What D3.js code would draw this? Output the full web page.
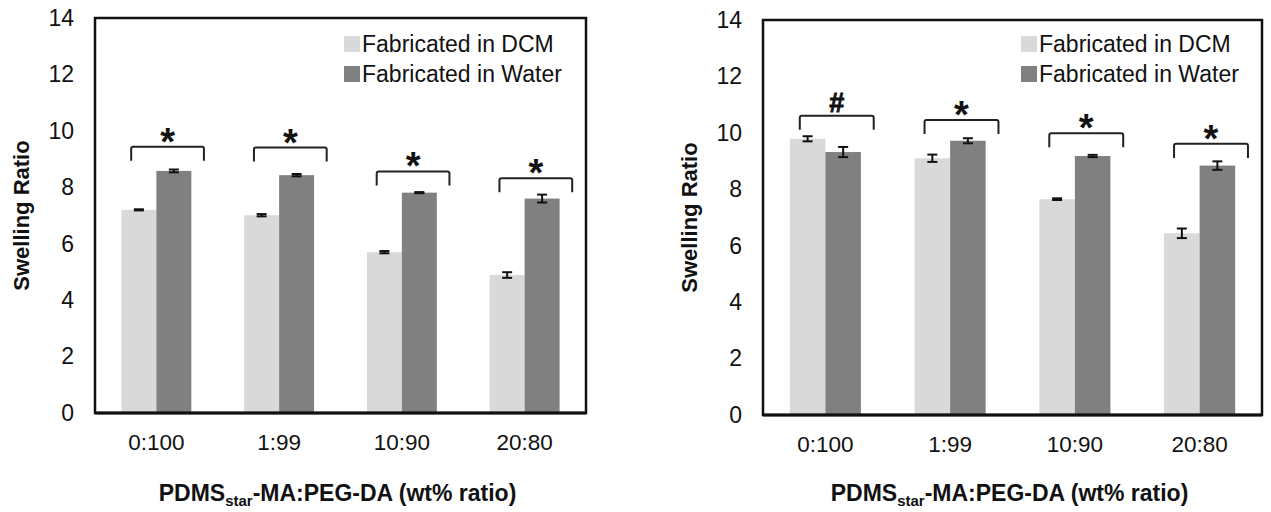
<!DOCTYPE html>
<html>
<head>
<meta charset="utf-8">
<script src="https://cdn.jsdelivr.net/npm/d3@7"></script>
<style>
  body { margin: 0; background: #fff; }
  svg { display: block; font-family: "Liberation Sans", Arial, sans-serif; }
</style>
</head>
<body>
<svg id="chart" width="1271" height="512"></svg>
<script>
// categories / series
var categories = ["0:100", "1:99", "10:90", "20:80"];
var seriesNames = ["Fabricated in DCM", "Fabricated in Water"];
var yTicks = [0, 2, 4, 6, 8, 10, 12, 14];

// left panel
var leftDCM = [7.20, 7.01, 5.70, 4.89];
var leftWater = [8.58, 8.43, 7.81, 7.60];
var leftDCMErr = [0.02, 0.04, 0.04, 0.10];
var leftWaterErr = [0.05, 0.04, 0.02, 0.14];
var leftBracket = [9.44, 9.41, 8.56, 8.32];
var leftMarks = ["*", "*", "*", "*"];

// right panel
var rightDCM = [9.79, 9.10, 7.65, 6.44];
var rightWater = [9.32, 9.72, 9.18, 8.84];
var rightDCMErr = [0.09, 0.13, 0.03, 0.17];
var rightWaterErr = [0.18, 0.09, 0.04, 0.15];
var rightBracket = [10.61, 10.46, 9.99, 9.61];
var rightMarks = ["#", "*", "*", "*"];

var colors = ["#d9d9d9", "#808080"];
var svg = d3.select("#chart");

function drawPanel(p) {
  var g = svg.append("g");
  var x0 = d3.scaleBand().domain(categories).range([p.left, p.right]).padding(0);
  var x1 = d3.scaleBand().domain(seriesNames).range([0, x0.bandwidth()])
      .paddingInner(0).paddingOuter(0.755);
  var y = d3.scaleLinear().domain([0, 14]).range([p.bottom, p.top]);
  var bw = x1.bandwidth();

  var rows = categories.map(function(c, i) {
    return {cat: c, vals: [
      {s: seriesNames[0], v: p.dcm[i], e: p.dcmErr[i]},
      {s: seriesNames[1], v: p.water[i], e: p.waterErr[i]}
    ], bracket: p.bracket[i], mark: p.marks[i]};
  });

  var grp = g.selectAll(".grp").data(rows).enter().append("g")
      .attr("transform", function(d) { return "translate(" + x0(d.cat) + ",0)"; });

  grp.selectAll("rect").data(function(d) { return d.vals; }).enter().append("rect")
      .attr("x", function(d) { return x1(d.s); })
      .attr("y", function(d) { return y(d.v); })
      .attr("width", bw)
      .attr("height", function(d) { return y(0) - y(d.v); })
      .attr("fill", function(d, i) { return colors[i]; });

  // error bars
  var eb = grp.selectAll(".eb").data(function(d) { return d.vals; }).enter().append("g")
      .attr("stroke", "#111").attr("stroke-width", 2);
  eb.append("line")
      .attr("x1", function(d) { return x1(d.s) + bw / 2; })
      .attr("x2", function(d) { return x1(d.s) + bw / 2; })
      .attr("y1", function(d) { return y(d.v + d.e); })
      .attr("y2", function(d) { return y(d.v - d.e); });
  [1, -1].forEach(function(sg) {
    eb.append("line")
      .attr("x1", function(d) { return x1(d.s) + bw / 2 - 5; })
      .attr("x2", function(d) { return x1(d.s) + bw / 2 + 5; })
      .attr("y1", function(d) { return y(d.v + sg * d.e); })
      .attr("y2", function(d) { return y(d.v + sg * d.e); });
  });

  // significance brackets
  var bl = x1(seriesNames[0]) + bw * 0.28, br = x1(seriesNames[1]) + bw * 1.36;
  grp.append("path")
      .attr("fill", "none").attr("stroke", "#222").attr("stroke-width", 2)
      .attr("d", function(d) {
        var t = y(d.bracket), b = y(d.bracket - 0.5);
        return "M" + bl + "," + b + "V" + (t + 2) + "Q" + bl + "," + t + " " + (bl + 2) + "," + t +
               "H" + (br - 2) + "Q" + br + "," + t + " " + br + "," + (t + 2) + "V" + b;
      });
  grp.append("text")
      .attr("x", (bl + br) / 2)
      .attr("y", function(d) { return y(d.bracket) + (d.mark === "#" ? -4 : 8); })
      .attr("text-anchor", "middle")
      .attr("font-weight", "bold")
      .attr("font-size", function(d) { return d.mark === "#" ? 27 : 38; })
      .attr("stroke", function(d) { return d.mark === "#" ? "#111" : "none"; })
      .attr("stroke-width", 0.8)
      .attr("fill", "#111")
      .text(function(d) { return d.mark; });

  // frame
  g.append("rect")
      .attr("x", p.left).attr("y", y(14))
      .attr("width", p.right - p.left).attr("height", y(0) - y(14))
      .attr("fill", "none").attr("stroke", "#111").attr("stroke-width", 2.5);
  g.append("line")
      .attr("x1", p.left).attr("x2", p.right).attr("y1", y(0)).attr("y2", y(0))
      .attr("stroke", "#111").attr("stroke-width", 3);

  // axes
  var ya = g.append("g").attr("transform", "translate(" + p.left + ",0)")
      .call(d3.axisLeft(y).tickValues(yTicks).tickSize(0).tickPadding(21));
  ya.select(".domain").remove();
  ya.selectAll("text").attr("font-size", 23).attr("fill", "#111")
      .attr("font-family", "Liberation Sans, Arial, sans-serif");

  var xa = g.append("g").attr("transform", "translate(0," + p.bottom + ")")
      .call(d3.axisBottom(x0).tickSize(0).tickPadding(21));
  xa.select(".domain").remove();
  xa.selectAll("text").attr("font-size", 22.5).attr("fill", "#111")
      .attr("font-family", "Liberation Sans, Arial, sans-serif");

  // axis titles
  g.append("text")
      .attr("transform", "translate(" + (p.left - 66) + "," + ((p.top + p.bottom) / 2) + ") rotate(-90)")
      .attr("text-anchor", "middle").attr("font-weight", "bold").attr("font-size", 22)
      .attr("fill", "#111")
      .text("Swelling Ratio");

  var xt = g.append("text")
      .attr("x", (p.left + p.right) / 2 - 3).attr("y", 501)
      .attr("text-anchor", "middle").attr("font-weight", "bold").attr("font-size", 23)
      .attr("fill", "#111");
  xt.append("tspan").text("PDMS");
  xt.append("tspan").attr("font-size", 15).attr("dy", 5).text("star");
  xt.append("tspan").attr("dy", -5).text("-MA:PEG-DA (wt% ratio)");

  // legend
  var lg = g.selectAll(".lg").data(seriesNames).enter().append("g")
      .attr("transform", function(d, i) { return "translate(" + p.legX + "," + (44 + i * 30) + ")"; });
  lg.append("rect").attr("x", 0).attr("y", -8).attr("width", 16).attr("height", 16)
      .attr("fill", function(d, i) { return colors[i]; });
  lg.append("text").attr("x", 18).attr("y", 8).attr("font-size", 23).attr("fill", "#111")
      .text(function(d) { return d; });
}

drawPanel({left: 95, right: 586, top: 18, bottom: 413, legX: 344,
  dcm: leftDCM, water: leftWater, dcmErr: leftDCMErr, waterErr: leftWaterErr,
  bracket: leftBracket, marks: leftMarks});
drawPanel({left: 763, right: 1262, top: 20, bottom: 415, legX: 1021,
  dcm: rightDCM, water: rightWater, dcmErr: rightDCMErr, waterErr: rightWaterErr,
  bracket: rightBracket, marks: rightMarks});
</script>
</body>
</html>
